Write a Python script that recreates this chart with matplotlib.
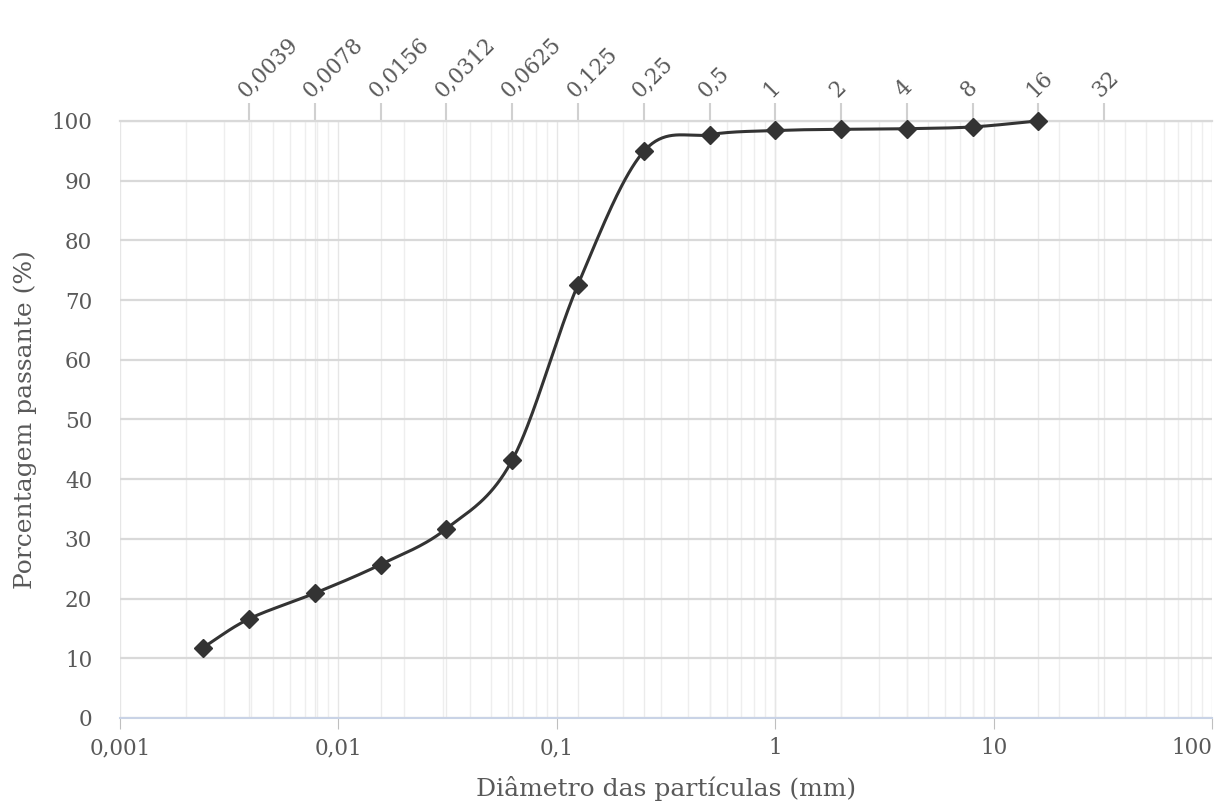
import numpy as np
import matplotlib
matplotlib.use("Agg")
import matplotlib.pyplot as plt
from matplotlib.ticker import FixedLocator, NullFormatter, LogLocator

# ---- data ----
diam = [0.0024, 0.0039, 0.0078, 0.0156, 0.0312, 0.0625, 0.125, 0.25, 0.5, 1, 2, 4, 8, 16]
passing = [11.8, 16.6, 20.9, 25.7, 31.7, 43.2, 72.6, 94.9, 97.7, 98.4, 98.6, 98.7, 99.0, 100.0]
bottom_ticks = [0.001, 0.01, 0.1, 1, 10, 100]
bottom_labels = ["0,001", "0,01", "0,1", "1", "10", "100"]
top_ticks = [0.0039, 0.0078, 0.0156, 0.0312, 0.0625, 0.125, 0.25, 0.5, 1, 2, 4, 8, 16, 32]
top_labels = ["0,0039", "0,0078", "0,0156", "0,0312", "0,0625", "0,125", "0,25", "0,5",
              "1", "2", "4", "8", "16", "32"]
y_ticks = list(range(0, 101, 10))
xlabel = "Diâmetro das partículas (mm)"
ylabel = "Porcentagem passante (%)"

plt.rcParams['font.family'] = ['DejaVu Serif']
txt = '#595959'

fig = plt.figure(figsize=(12.23, 8.09), dpi=100)
ax = fig.add_axes([0.0981, 0.1125, 0.893, 0.738])
ax.set_xscale('log')
ax.set_xlim(0.001, 100)
ax.set_ylim(0, 100)

# minor log gridlines
ax.xaxis.set_minor_locator(LogLocator(base=10, subs=np.arange(2, 10)))
ax.xaxis.set_minor_formatter(NullFormatter())
ax.grid(True, which='minor', axis='x', color='#eeeeee', lw=1.0)
ax.grid(True, which='major', axis='x', color='#e6e6e6', lw=1.0)
ax.grid(True, which='major', axis='y', color='#d9d9d9', lw=1.6)
ax.set_axisbelow(True)
for xv in top_ticks:
    ax.axvline(xv, color='#ebebeb', lw=1.0, zorder=0.5)

# smooth curve (Catmull-Rom in log-x space)
lx = np.log10(np.array(diam, dtype=float))
py = np.array(passing, dtype=float)
P = np.column_stack([lx, py])
Pext = np.vstack([P[0] - (P[1] - P[0]), P, P[-1] + (P[-1] - P[-2])])
curve = []
for i in range(1, len(Pext) - 2):
    p0, p1, p2, p3 = Pext[i - 1], Pext[i], Pext[i + 1], Pext[i + 2]
    c1 = p1 + (p2 - p0) / 6.0
    c2 = p2 - (p3 - p1) / 6.0
    t = np.linspace(0, 1, 40)[:, None]
    seg = ((1 - t) ** 3) * p1 + 3 * ((1 - t) ** 2) * t * c1 + 3 * (1 - t) * t ** 2 * c2 + t ** 3 * p2
    curve.append(seg)
curve = np.vstack(curve)
ax.plot(10 ** curve[:, 0], curve[:, 1], color='#333333', lw=2.2, zorder=3, clip_on=False)
ax.plot(diam, passing, ls='none', marker='D', ms=9.5, color='#333333', zorder=4, clip_on=False)

# axes styling
for s in ['top', 'right', 'left']:
    ax.spines[s].set_visible(False)
ax.spines['bottom'].set_color('#c9d3e6')
ax.spines['bottom'].set_linewidth(1.5)
ax.set_yticks(y_ticks)
ax.tick_params(axis='y', length=0, labelsize=15.5, labelcolor=txt, pad=20)
ax.xaxis.set_major_locator(FixedLocator(bottom_ticks))
ax.set_xticklabels(bottom_labels)
ax.get_xticklabels()[-1].set_horizontalalignment('right')
ax.tick_params(axis='x', which='major', length=8, color='#bfbfbf', labelsize=15.5, labelcolor=txt, pad=6)
ax.tick_params(axis='x', which='minor', length=0)
ax.set_xlabel(xlabel, fontsize=18, color=txt)
ax.set_ylabel(ylabel, fontsize=18, color=txt, va='center')
ax.xaxis.set_label_coords(0.5, -0.097)
ax.yaxis.set_label_coords(-0.087, 0.5)

# top axis
top = ax.secondary_xaxis('top')
top.set_xscale('log')
top.xaxis.set_major_locator(FixedLocator(top_ticks))
top.xaxis.set_minor_locator(FixedLocator([]))
top.set_xticklabels(top_labels, rotation=45, ha='left', va='bottom', rotation_mode='anchor')
top.tick_params(axis='x', which='major', length=13, width=1.5, color='#d0d0d0',
                labelsize=15.5, labelcolor=txt, pad=1)
top.spines['top'].set_color('#d9d9d9')
top.spines['top'].set_linewidth(1.6)

fig.savefig('out.png', dpi=100, facecolor='white')
